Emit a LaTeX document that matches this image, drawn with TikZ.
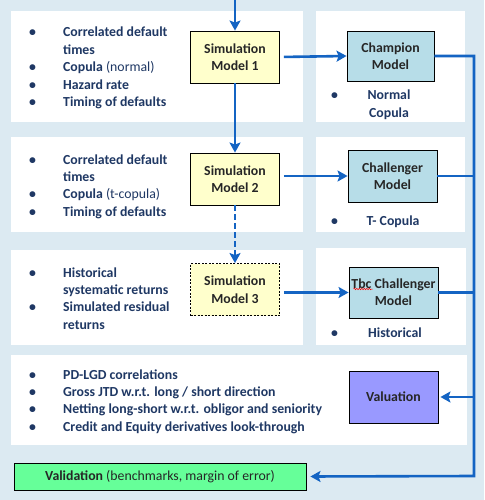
\documentclass[tikz,border=0pt]{standalone}
\usepackage{fontspec}
\setmainfont{Carlito}
\usetikzlibrary{positioning, arrows.meta, decorations.pathmorphing}
\definecolor{fondo}{RGB}{220, 234, 242}
\definecolor{azul}{RGB}{20, 100, 195}
\definecolor{marino}{RGB}{31, 56, 100}
\definecolor{amarillo}{RGB}{255, 255, 204}
\definecolor{celeste}{RGB}{183, 221, 232}
\definecolor{lila}{RGB}{153, 153, 255}
\definecolor{verde}{RGB}{102, 255, 153}
\tikzset{
    panel/.style={rectangle, fill=white, anchor=north west, inner sep=0pt},
    sim/.style={rectangle, draw=black, line width=0.9pt, fill=amarillo, minimum width=89pt, minimum height=52pt, align=center, font=\bfseries, text=black!85, inner sep=0pt},
    mdl/.style={sim, fill=celeste},
    lista/.style={anchor=base west, inner sep=0pt, font=\bfseries, text=marino},
    punto/.style={anchor=base west, inner sep=0pt, font=\bfseries, text=marino},
    flow/.style={azul, line width=2.6pt, -{Stealth[length=10pt, width=11pt, inset=2pt]}},
    link/.style={azul, line width=2.6pt},
    spell/.style={red, line width=0.5pt, decorate, decoration={snake, amplitude=0.7pt, segment length=2.5pt}},
}
\begin{document}
\fontsize{13.8}{17.4}\selectfont
\begin{tikzpicture}[x=1pt, y=-1pt]
    \useasboundingbox (0,0) rectangle (484,500);
    \fill[fondo] (0,0) rectangle (484,500);
    % panels
    \node[panel, minimum width=292pt, minimum height=111pt] (p1l) at (11,11) {};
    \node[panel, minimum width=149pt, minimum height=111pt] (p1r) at (316,11) {};
    \node[panel, minimum width=292pt, minimum height=95pt] (p2l) at (11,137) {};
    \node[panel, minimum width=149pt, minimum height=95pt] (p2r) at (316,137) {};
    \node[panel, minimum width=292pt, minimum height=95pt] (p3l) at (11,250) {};
    \node[panel, minimum width=150pt, minimum height=97pt] (p3r) at (316,248) {};
    \node[panel, minimum width=456pt, minimum height=90pt] (p4) at (11,355) {};

    % models
    \node[sim] (sim1) at (235,57) {Simulation\\Model 1};
    \node[sim] (sim2) at (235,179) {Simulation\\Model 2};
    \node[sim, dash pattern=on 2pt off 1.5pt] (sim3) at (235,289.5) {Simulation\\Model 3};
    \node[mdl, minimum width=87pt, minimum height=50pt] (champ) at (390.5,56) {Champion\\Model};
    \node[mdl] (chal) at (392.5,176) {Challenger\\Model};
    \node[mdl, minimum height=51pt] (tbc) at (393.5,292.5) {Tbc Challenger\\Model};
    \node[mdl, fill=lila] (val) at (393.5,397) {Valuation};
    \node[sim, fill=verde, minimum width=292pt, minimum height=27pt, font=\mdseries] (valid) at (160,476.5) {\textbf{Validation} (benchmarks, margin of error)};
    \draw[spell] ([xshift=-40pt, yshift=3.5pt]tbc.center) -- ([xshift=-21pt, yshift=3.5pt]tbc.center);

    % lists
    \node[lista] (l1) at (29,37) {\begin{tabular}[t]{@{}p{34pt}@{}l@{}}
        \textbullet & Correlated default\\
        & times\\
        \textbullet & Copula \mdseries(normal)\\
        \textbullet & Hazard rate\\
        \textbullet & Timing of defaults
    \end{tabular}};
    \node[lista] (l2) at (29,164) {\begin{tabular}[t]{@{}p{34pt}@{}l@{}}
        \textbullet & Correlated default\\
        & times\\
        \textbullet & Copula \mdseries(t-copula)\\
        \textbullet & Timing of defaults
    \end{tabular}};
    \node[lista] (l3) at (29,277) {\begin{tabular}[t]{@{}p{34pt}@{}l@{}}
        \textbullet & Historical\\
        & systematic returns\\
        \textbullet & Simulated residual\\
        & returns
    \end{tabular}};
    \node[lista] (l4) at (29,379) {\begin{tabular}[t]{@{}p{34pt}@{}l@{}}
        \textbullet & PD-LGD correlations\\
        \textbullet & Gross JTD w.r.t. long / short direction\\
        \textbullet & Netting long-short w.r.t. obligor and seniority\\
        \textbullet & Credit and Equity derivatives look-through
    \end{tabular}};

    \node[punto] (b1) at (331,100) {\textbullet};
    \node[lista, anchor=base] (t1) at (389,100) {\begin{tabular}[t]{@{}c@{}}Normal\\Copula\end{tabular}};
    \node[punto] (b2) at (331,225) {\textbullet};
    \node[lista, anchor=base] (t2) at (393,225) {T- Copula};
    \node[punto] (b3) at (331,337) {\textbullet};
    \node[lista, anchor=base] (t3) at (395,337) {Historical};

    % connectors
    \coordinate (top) at (235,0);
    \coordinate (rbot) at (474,476);
    \draw[flow] (top) -- (sim1);
    \draw[flow] (sim1) -- (sim2);
    \draw[flow, dash pattern=on 6pt off 3pt] (sim2) -- (sim3);
    \draw[flow, shorten <=4pt] (sim1.east) -- (champ.west);
    \draw[flow, shorten <=4pt] (sim2.east |- chal.west) -- (chal.west);
    \draw[flow, shorten <=4pt] (sim3.east |- tbc.west) -- (tbc.west);
    \draw[flow, shorten >=4pt] (champ.east) -| (rbot) -- (valid.east);
    \draw[link] (chal.east) -- (chal.east -| rbot);
    \draw[link] (tbc.east) -- (tbc.east -| rbot);
    \draw[flow, shorten >=2pt] (val.east -| rbot) -- (val.east);
\end{tikzpicture}
\end{document}
